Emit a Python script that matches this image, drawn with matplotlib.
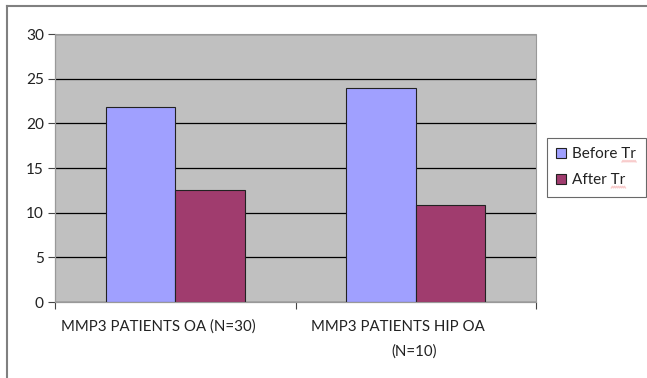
import numpy as np
import matplotlib
matplotlib.use('Agg')
import matplotlib.pyplot as plt
from matplotlib.lines import Line2D
from matplotlib.transforms import offset_copy

categories = ['MMP3 PATIENTS OA (N=30)', 'MMP3 PATIENTS HIP OA\n(N=10)']
before_tr = [21.8, 24.0]
after_tr = [12.5, 10.9]
series_names = ['Before Tr', 'After Tr']

plt.rcParams['font.family'] = ['Lato', 'DejaVu Sans']
FS = 10.8

W, H = 647, 378
fig = plt.figure(figsize=(W / 100, H / 100), dpi=100)
ax = fig.add_axes([55 / W, 1 - 302 / H, (536 - 55) / W, (302 - 34) / H])
ax.set_facecolor('#c0c0c0')

x = np.arange(len(categories))
bw = 0.29
ax.bar(x - bw / 2, before_tr, bw, color='#a0a0ff', edgecolor='#222222', linewidth=0.8,
       label=series_names[0], zorder=3)
ax.bar(x + bw / 2, after_tr, bw, color='#a03c6e', edgecolor='#222222', linewidth=0.8,
       label=series_names[1], zorder=3)

ax.set_xlim(-0.5, len(categories) - 0.5)
ax.set_ylim(0, 30)
ax.set_yticks(range(0, 31, 5))
ax.yaxis.grid(True, color='black', linewidth=0.9, zorder=1)
ax.set_axisbelow(True)

# category boundary ticks instead of centered ticks
ax.set_xticks(np.arange(-0.5, len(categories), 1.0))
ax.set_xticklabels([])
# Excel-style wrapped labels, each line nudged (points) like the original
line_shift = [[-12], [-13, -1.5]]
for xi, lab, shifts in zip(x, categories, line_shift):
    for k, (line, dx) in enumerate(zip(lab.split('\n'), shifts)):
        tr = offset_copy(ax.transData, fig=fig, x=dx, y=-18 * k, units='points')
        ax.text(xi, -2.0, line, ha='center', va='top', fontsize=FS,
                color='#222222', transform=tr, clip_on=False)

for s in ['top', 'right']:
    ax.spines[s].set_visible(False)
ax.spines['left'].set_color('#888888')
ax.spines['bottom'].set_color('#888888')
ax.tick_params(axis='y', length=5, width=0.8, color='#444444', labelsize=FS + 0.3,
               labelcolor='#222222', pad=3)
ax.tick_params(axis='x', length=5, width=0.8, color='#444444')
# plot area outline
ax.add_patch(plt.Rectangle((0, 0), 1, 1, transform=ax.transAxes, fill=False,
                           edgecolor='#999999', linewidth=0.8, zorder=4, clip_on=False))

leg = fig.legend(loc='upper right', bbox_to_anchor=(645.5 / W, 1 - 138 / H),
                 frameon=True, fancybox=False, edgecolor='#444444', fontsize=FS + 0.2,
                 handlelength=0.65, handleheight=0.65, handletextpad=0.4,
                 borderpad=0.62, labelspacing=0.78, borderaxespad=0)
leg.get_frame().set_linewidth(0.8)
for t in leg.get_texts():
    t.set_color('#222222')

# outer chart frame (top and left only visible)
fig.add_artist(Line2D([7 / W, 646 / W], [1 - 6 / H, 1 - 6 / H], color='#808080', linewidth=1.5))
fig.add_artist(Line2D([7 / W, 7 / W], [1 - 6 / H, 0], color='#808080', linewidth=1.5))

# spell-check squiggles under "Tr"
fig.canvas.draw()
r = fig.canvas.get_renderer()
for t in leg.get_texts():
    bb = t.get_window_extent(r)
    x1 = bb.x1
    x0 = x1 - 14
    xs = np.linspace(x0, x1, 15)
    ys = bb.y0 - 0.5 + np.where(np.arange(15) % 2 == 0, 0.0, 1.6)
    fig.add_artist(Line2D(xs / W, ys / H, color='#e00000', linewidth=1.0))

fig.savefig('out.png', dpi=100)
